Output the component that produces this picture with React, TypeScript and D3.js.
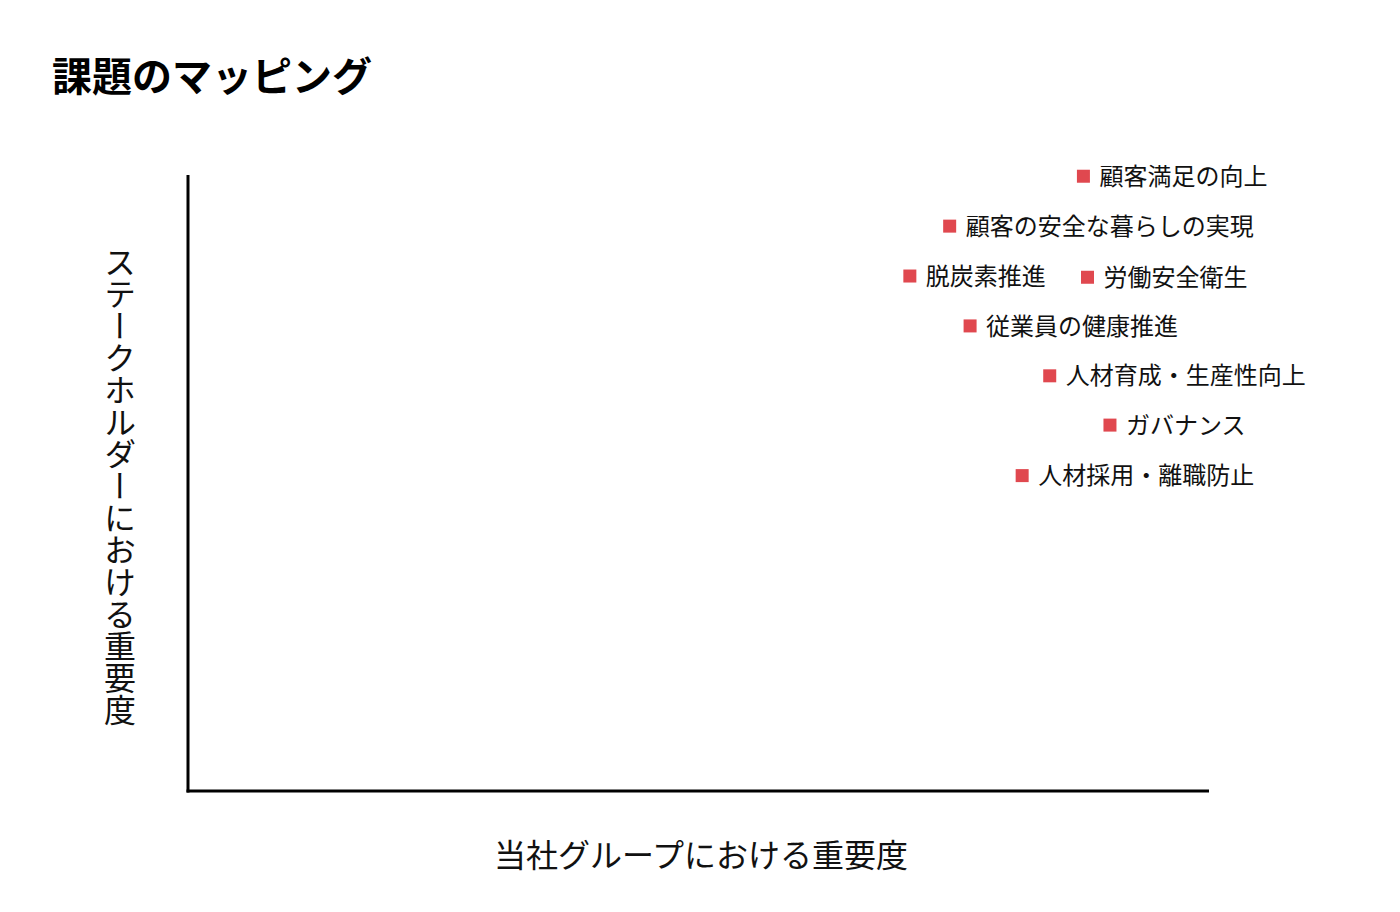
import { useMemo } from "react";
import * as d3 from "d3";

const issueNames = [
  "顧客満足の向上",
  "顧客の安全な暮らしの実現",
  "脱炭素推進",
  "労働安全衛生",
  "従業員の健康推進",
  "人材育成・生産性向上",
  "ガバナンス",
  "人材採用・離職防止",
];
// 当社グループにおける重要度
const companyScore = [8.77, 7.46, 7.07, 8.81, 7.66, 8.44, 9.03, 8.17];
// ステークホルダーにおける重要度
const stakeholderScore = [9.98, 9.17, 8.36, 8.34, 7.55, 6.74, 5.94, 5.12];

const TITLE = "課題のマッピング";
const X_LABEL = "当社グループにおける重要度";
const Y_LABEL = "ステークホルダーにおける重要度";

const W = 1400;
const H = 912;
const FONT = '"Noto Sans CJK JP", "Noto Sans", sans-serif';
const MARK = "#e0484f";

export default function App() {
  const x = useMemo(() => d3.scaleLinear().domain([0, 10]).range([188, 1209]), []);
  const y = useMemo(() => d3.scaleLinear().domain([0, 10]).range([791, 175]), []);
  const points = issueNames.map((name, i) => ({ name, cx: companyScore[i], cy: stakeholderScore[i] }));
  const sq = 13;

  return (
    <svg width={W} height={H} style={{ position: "absolute", left: 0, top: 0, background: "#fff" }}>
      <text x={52} y={91} fontFamily={FONT} fontSize={40} fontWeight={700} fill="#000">
        {TITLE}
      </text>

      {/* 軸 */}
      <line x1={x(0)} y1={y(10)} x2={x(0)} y2={y(0) + 1.5} stroke="#000" strokeWidth={3} />
      <line x1={x(0) - 1.5} y1={y(0)} x2={x(10)} y2={y(0)} stroke="#000" strokeWidth={3} />

      <text x={701} y={867} textAnchor="middle" fontFamily={FONT} fontSize={32} fill="#111">
        {X_LABEL}
      </text>
      <text
        x={120}
        y={246}
        fontFamily={FONT}
        fontSize={32}
        fill="#111"
        style={{ writingMode: "vertical-rl", textOrientation: "upright" } as any}
      >
        {Y_LABEL}
      </text>

      {points.map((p) => (
        <g key={p.name}>
          <rect x={x(p.cx) - sq / 2} y={y(p.cy) - sq / 2} width={sq} height={sq} fill={MARK} />
          <text
            x={x(p.cx) + 16}
            y={y(p.cy)}
            dy="0.36em"
            fontFamily={FONT}
            fontSize={24}
            fill="#111"
          >
            {p.name}
          </text>
        </g>
      ))}
    </svg>
  );
}
